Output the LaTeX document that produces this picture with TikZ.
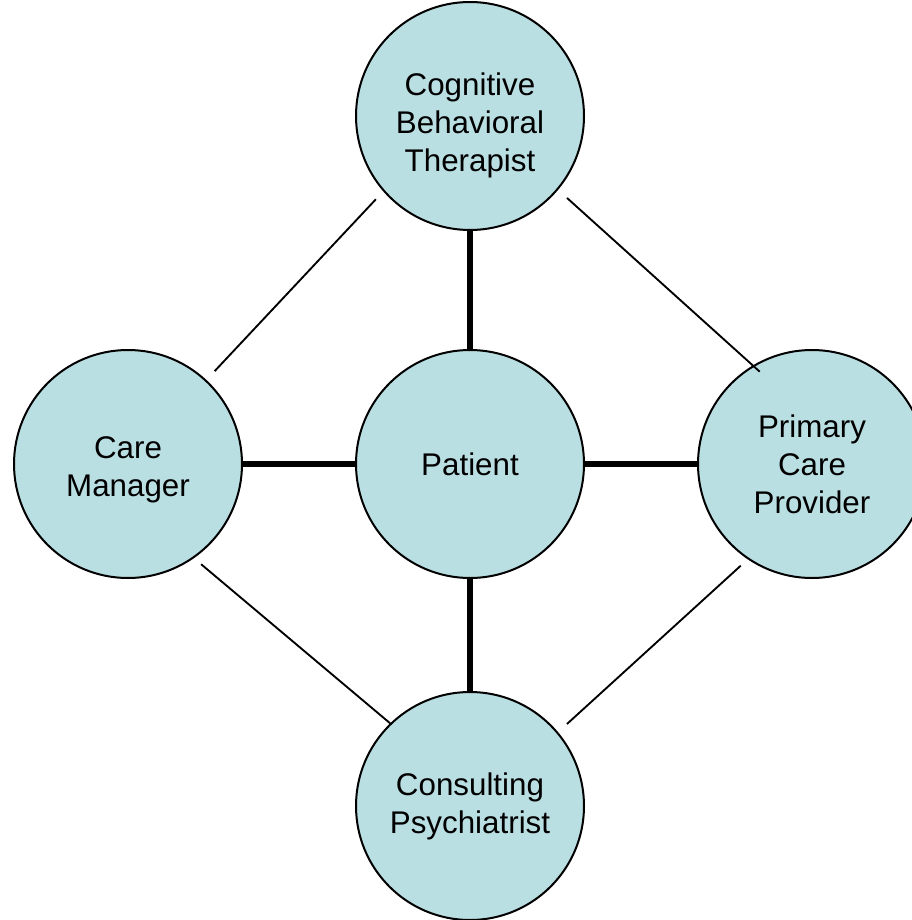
\documentclass[tikz,border=0pt]{standalone}
\usepackage{fontspec}
\setmainfont{Liberation Sans}
\usepackage{tikz}
\usetikzlibrary{positioning,calc}
\definecolor{rolefill}{RGB}{186,223,227}

\begin{document}
\begin{tikzpicture}[x=0.75pt,y=-0.75pt,
  role/.style={circle, fill=rolefill, draw=black, line width=1.5pt, minimum size=171pt, inner sep=0pt,
    align=center, font=\fontsize{23.5}{28.5}\selectfont},
  rolename/.style={align=center, inner sep=0pt, font=\fontsize{23.5}{28.5}\selectfont},
  link/.style={line width=4.5pt},
  side/.style={line width=1.4pt}]
  \useasboundingbox (0,0) rectangle (912,920);

  \node (patient) [role] at (470,464) {Patient};
  \node (cbt) [role] at (470,116) {};
  \node (cm) [role] at (128,464) {};
  \node (pcp) [role] at (812,464) {Primary\\Care\\Provider};
  \node (psy) [role] at (470,806) {Consulting\\Psychiatrist};
  % names placed a bit low in these two circles
  \node (cbt name) [rolename] at ($(cbt)+(0,9)$) {Cognitive\\Behavioral\\Therapist};
  \node (cm name) [rolename] at ($(cm)+(0,6)$) {Care\\Manager};

  \path [side]
  (cbt.221) edge [shorten <=8pt, shorten >=9pt] (cm.47)
  (cbt.-40) edge [shorten <=9pt, shorten >=-7pt] (pcp.121)
  (cm.-55) edge [shorten <=7pt] (psy.134)
  (pcp.-124) edge [shorten <=7pt, shorten >=9pt] (psy.40);

  \path [link]
  (patient) edge (cbt)
  (patient) edge (cm)
  (patient) edge (pcp)
  (patient) edge (psy);
\end{tikzpicture}
\end{document}
